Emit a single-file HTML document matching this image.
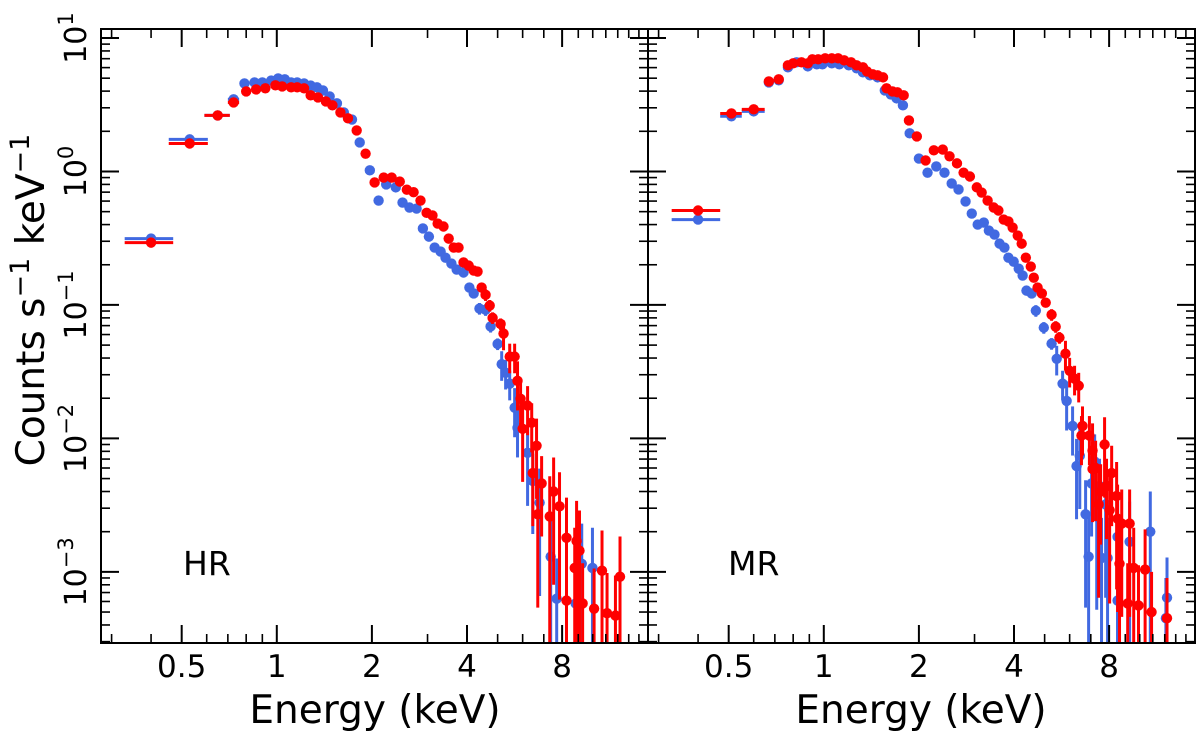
<!DOCTYPE html>
<html><head><meta charset="utf-8"><style>
html,body{margin:0;padding:0;background:#fff}
svg{display:block;font-family:"DejaVu Sans","Liberation Sans",sans-serif}
</style></head><body>
<svg id="chart" width="1200" height="741" viewBox="0 0 1200 741" xmlns="http://www.w3.org/2000/svg">
<defs>
<clipPath id="clipL"><rect x="101" y="29" width="547" height="614"/></clipPath>
<clipPath id="clipR"><rect x="648" y="29" width="547" height="614"/></clipPath>
</defs>
<g id="marksL" clip-path="url(#clipL)"></g>
<g id="marksR" clip-path="url(#clipR)"></g>
<g id="axes"></g>
<text x="183" y="575" font-size="33" fill="#000">HR</text>
<text x="728" y="575" font-size="33" fill="#000">MR</text>
<text x="375" y="723" font-size="39" text-anchor="middle" fill="#000">Energy (keV)</text>
<text x="921" y="723" font-size="39" text-anchor="middle" fill="#000">Energy (keV)</text>
<text transform="translate(44,300) rotate(-90)" font-size="39" text-anchor="middle" fill="#000">Counts s<tspan dy="-15" font-size="27">−1</tspan><tspan dy="15"> keV</tspan><tspan dy="-15" font-size="27">−1</tspan></text>
</svg>
<script>
// ---- data (energy keV, counts/s/keV, relative error) ----
const hrBlueE=[0.40,0.53,0.65,0.73,0.79,0.85,0.90,0.96,1.01,1.06,1.11,1.16,1.22,1.28,1.34,1.40,1.47,1.55,1.63,1.73,1.83,1.97,2.10,2.22,2.38,2.50,2.63,2.77,2.90,3.03,3.16,3.30,3.42,3.57,3.71,3.90,4.07,4.20,4.38,4.58,4.75,5.0,5.15,5.30,5.46,5.66,5.78,6.22,6.46,6.79,7.36,7.69,8.83,9.23,9.98];
const hrBlueF=[0.314,1.74,2.63,3.47,4.57,4.65,4.65,4.8,4.98,4.9,4.65,4.65,4.57,4.4,4.27,4.05,3.65,3.24,2.77,2.45,1.65,1.02,0.605,0.80,0.76,0.585,0.537,0.527,0.374,0.325,0.269,0.251,0.226,0.204,0.184,0.175,0.135,0.122,0.094,0.092,0.069,0.051,0.036,0.031,0.0257,0.017,0.012,0.0078,0.0048,0.0033,0.0013,0.00063,0.00058,0.00115,0.00107];
const hrBlueErr=[0.02,0.02,0.02,0.02,0.02,0.02,0.02,0.02,0.02,0.02,0.02,0.02,0.02,0.02,0.02,0.02,0.02,0.02,0.02,0.02,0.02,0.02,0.02,0.02,0.02,0.02,0.02,0.02,0.02,0.02,0.02,0.02,0.02,0.02,0.02,0.02,0.02,0.02,0.1,0.1,0.1,0.1,0.25,0.25,0.25,0.4,0.4,0.6,0.6,0.8,1,1,1,1,1];
const hrBlueXErr=[0.07,0.075,0.06,0.03];
const hrRedE=[0.40,0.53,0.65,0.73,0.80,0.86,0.92,0.99,1.04,1.11,1.16,1.22,1.28,1.35,1.43,1.50,1.59,1.68,1.79,1.91,2.04,2.18,2.31,2.45,2.58,2.71,2.85,2.98,3.11,3.23,3.37,3.50,3.63,3.76,3.90,4.05,4.20,4.32,4.45,4.58,4.72,4.82,5.11,5.22,5.46,5.66,5.78,5.91,6.22,6.41,6.0,6.64,6.46,6.89,7.52,7.85,6.70,7.31,8.26,8.89,9.08,8.77,10.7,12.2,8.26,9.29,10.1,11.1,11.8];
const hrRedF=[0.293,1.62,2.63,3.29,3.98,4.12,4.2,4.42,4.34,4.27,4.27,4.2,3.72,3.59,3.35,3.13,2.77,2.5,2.03,1.36,0.827,0.90,0.90,0.84,0.73,0.70,0.605,0.49,0.468,0.407,0.387,0.314,0.269,0.269,0.208,0.197,0.181,0.178,0.135,0.119,0.099,0.080,0.072,0.061,0.041,0.041,0.027,0.0198,0.0176,0.0131,0.0118,0.0088,0.0055,0.0046,0.0040,0.0031,0.0027,0.0026,0.0018,0.0017,0.00144,0.00107,0.00102,0.00092,0.00061,0.00058,0.00053,0.00049,0.00047];
const hrRedErr=[0.02,0.02,0.02,0.02,0.02,0.02,0.02,0.02,0.02,0.02,0.02,0.02,0.02,0.02,0.02,0.02,0.02,0.02,0.02,0.02,0.02,0.02,0.02,0.02,0.02,0.02,0.02,0.02,0.02,0.02,0.02,0.02,0.02,0.02,0.02,0.02,0.02,0.02,0.02,0.1,0.1,0.1,0.1,0.25,0.25,0.25,0.4,0.4,0.4,0.4,0.6,0.6,0.6,0.6,0.8,0.8,0.8,1,1,1,1,1,1,1,1,1,1,1,1];
const hrRedXErr=[0.07,0.075,0.06,0.03];
const mrBlueE=[0.40,0.51,0.60,0.67,0.72,0.77,0.82,0.89,0.95,0.99,1.06,1.12,1.20,1.27,1.33,1.40,1.48,1.56,1.63,1.70,1.78,1.87,2.00,2.13,2.27,2.41,2.54,2.67,2.81,2.94,3.07,3.21,3.33,3.47,3.60,3.73,3.84,3.99,4.14,4.26,4.38,4.55,4.69,4.97,5.26,5.46,5.70,5.87,6.13,6.31,6.46,6.74,6.89,7.04,7.20,7.31,7.46,7.57,7.80,7.91,8.51,8.51,9.29,10.8,12.2,12.1];
const mrBlueF=[0.436,2.59,2.82,4.65,4.82,6.03,6.57,6.13,6.35,6.35,6.46,6.35,6.24,5.93,5.53,5.25,5.07,4.05,3.78,3.53,3.13,1.93,1.25,0.98,1.09,0.98,0.813,0.733,0.596,0.484,0.40,0.414,0.361,0.337,0.288,0.269,0.226,0.211,0.187,0.166,0.128,0.122,0.0906,0.0676,0.0513,0.0395,0.0257,0.0191,0.0124,0.0062,0.0074,0.0027,0.0013,0.0046,0.0067,0.0026,0.0044,0.00127,0.0032,0.00127,0.00061,0.00183,0.00168,0.0020,0.00064,0.00045];
const mrBlueErr=[0.02,0.02,0.02,0.02,0.02,0.02,0.02,0.02,0.02,0.02,0.02,0.02,0.02,0.02,0.02,0.02,0.02,0.02,0.02,0.02,0.02,0.02,0.02,0.02,0.02,0.02,0.02,0.02,0.02,0.02,0.02,0.02,0.02,0.02,0.02,0.02,0.02,0.02,0.02,0.02,0.02,0.02,0.1,0.1,0.1,0.25,0.25,0.4,0.4,0.6,0.6,0.8,1,0.6,0.6,0.8,0.6,1,0.8,1,1,1,1,1,1,1];
const mrBlueXErr=[0.07,0.04,0.05];
const mrRedE=[0.40,0.51,0.60,0.67,0.72,0.77,0.80,0.85,0.89,0.92,0.96,1.01,1.06,1.11,1.16,1.22,1.27,1.33,1.37,1.43,1.48,1.54,1.58,1.65,1.71,1.79,1.86,1.97,2.10,2.23,2.38,2.50,2.64,2.77,2.90,3.05,3.16,3.30,3.45,3.57,3.71,3.84,3.96,4.11,4.23,4.36,4.52,4.62,4.75,4.90,5.04,5.26,5.42,5.57,5.82,6.0,6.22,6.41,6.59,6.54,6.93,7.09,7.74,7.09,7.25,7.52,7.85,8.15,7.41,8.03,8.45,8.51,8.77,9.29,8.63,9.57,10.4,9.16,9.91,10.9,12.2];
const mrRedF=[0.51,2.72,2.92,4.73,4.9,6.24,6.46,6.57,6.46,6.92,6.92,7.04,7.04,7.04,6.8,6.57,6.24,6.03,5.62,5.34,5.25,5.07,4.2,3.98,3.92,3.72,2.41,1.83,1.21,1.44,1.46,1.30,1.15,0.98,0.917,0.76,0.695,0.605,0.537,0.51,0.436,0.422,0.38,0.331,0.288,0.226,0.194,0.16,0.135,0.122,0.104,0.0845,0.0687,0.0569,0.0431,0.0321,0.028,0.0248,0.0124,0.0105,0.0105,0.0081,0.0090,0.0059,0.006,0.004,0.0044,0.0055,0.0032,0.0029,0.0037,0.0025,0.0023,0.0023,0.00115,0.00107,0.00104,0.00058,0.00056,0.0005,0.00045];
const mrRedErr=[0.02,0.02,0.02,0.02,0.02,0.02,0.02,0.02,0.02,0.02,0.02,0.02,0.02,0.02,0.02,0.02,0.02,0.02,0.02,0.02,0.02,0.02,0.02,0.02,0.02,0.02,0.02,0.02,0.02,0.02,0.02,0.02,0.02,0.02,0.02,0.02,0.02,0.02,0.02,0.02,0.02,0.02,0.02,0.02,0.02,0.02,0.02,0.02,0.02,0.02,0.02,0.1,0.1,0.1,0.25,0.25,0.25,0.25,0.4,0.4,0.4,0.6,0.6,0.6,0.6,0.6,0.6,0.6,0.8,0.8,0.8,0.8,0.8,0.8,1,1,1,1,1,1,1];
const mrRedXErr=[0.07,0.04,0.05];
const xTickMajor=[0.5,1,2,4,8];
const xTickLabels=["0.5","1","2","4","8"];
const xTickMinor=[0.3,0.4,0.6,0.7,0.8,0.9,3,5,6,7,9,10,11,12,13,14];
const yDecades=[-3,-2,-1,0,1];
const yTickLabels=["−3","−2","−1","0","1"];

// ---- scales ----
const X_MIN=0.2777, X_MAX=14.96, Y_MIN=Math.pow(10,-3.533), Y_MAX=Math.pow(10,1.0675);
const TOP=29, BOT=643, PW=547;
function xScale(e,x0){return x0+PW*(Math.log10(e)-Math.log10(X_MIN))/(Math.log10(X_MAX)-Math.log10(X_MIN));}
function yScale(f){return TOP+(BOT-TOP)*(Math.log10(Y_MAX)-Math.log10(f))/(Math.log10(Y_MAX)-Math.log10(Y_MIN));}
const NS="http://www.w3.org/2000/svg";
function mk(tag,attrs,parent){const el=document.createElementNS(NS,tag);for(const k in attrs)el.setAttribute(k,attrs[k]);parent.appendChild(el);return el;}

function drawSeries(g,x0,E,F,ERR,XERR,color,name){
  const sg=mk('g',{},g);
  
  
  for(let i=0;i<E.length;i++){
    const cx=xScale(E[i],x0), cy=yScale(F[i]);
    const rel=ERR[i]||0;
    if(rel>0.05){
      const yl=rel>=1?BOT+10:yScale(F[i]*(1-rel));
      const yh=yScale(F[i]*(1+rel));
      const eb=mk('line',{x1:cx,x2:cx,y1:yh,y2:yl,stroke:color,'stroke-width':3},sg);
      
      
    }
    if(XERR[i]){
      const xb=mk('line',{x1:xScale(E[i]-XERR[i],x0),x2:xScale(E[i]+XERR[i],x0),y1:cy,y2:cy,stroke:color,'stroke-width':3},sg);
      
      
    }
    const pt=mk('circle',{cx:cx,cy:cy,r:5.2,fill:color},sg);
    
    
  }
}
const gL=document.getElementById('marksL'), gR=document.getElementById('marksR');
drawSeries(gL,101,hrBlueE,hrBlueF,hrBlueErr,hrBlueXErr,'#4169e1','hr-blue');
drawSeries(gL,101,hrRedE,hrRedF,hrRedErr,hrRedXErr,'#ff0000','hr-red');
drawSeries(gR,648,mrBlueE,mrBlueF,mrBlueErr,mrBlueXErr,'#4169e1','mr-blue');
drawSeries(gR,648,mrRedE,mrRedF,mrRedErr,mrRedXErr,'#ff0000','mr-red');

// ---- axes ----
const ax=document.getElementById('axes');
[101,648].forEach(function(x0,pi){
  const pname=pi===0?'hr':'mr';
  const fr=mk('rect',{x:x0,y:TOP,width:PW,height:BOT-TOP,fill:'none',stroke:'#000','stroke-width':2},ax);
  
  
  xTickMajor.forEach(function(v,i){
    const x=xScale(v,x0);
    mk('line',{x1:x,x2:x,y1:BOT,y2:BOT-18,stroke:'#000','stroke-width':2},ax);
    mk('line',{x1:x,x2:x,y1:TOP,y2:TOP+18,stroke:'#000','stroke-width':2},ax);
    const t=mk('text',{x:x,y:677,'font-size':31,'text-anchor':'middle',fill:'#000'},ax);
    t.textContent=xTickLabels[i];
    
    
  });
  xTickMinor.forEach(function(v){
    const x=xScale(v,x0);
    if(x<=x0+1||x>=x0+PW-1)return;
    mk('line',{x1:x,x2:x,y1:BOT,y2:BOT-9,stroke:'#000','stroke-width':1.6},ax);
    mk('line',{x1:x,x2:x,y1:TOP,y2:TOP+9,stroke:'#000','stroke-width':1.6},ax);
  });
  for(let d=-4;d<=1;d++){
    for(let m=1;m<=9;m++){
      const v=m*Math.pow(10,d);
      const y=yScale(v);
      if(y<TOP+1||y>BOT-1)continue;
      const len=m===1?18:9;
      mk('line',{x1:x0,x2:x0+len,y1:y,y2:y,stroke:'#000','stroke-width':m===1?2:1.6},ax);
      mk('line',{x1:x0+PW,x2:x0+PW-len,y1:y,y2:y,stroke:'#000','stroke-width':m===1?2:1.6},ax);
    }
  }
});
yDecades.forEach(function(d,i){
  const y=yScale(Math.pow(10,d));
  const t=mk('text',{transform:'translate(86,'+y+') rotate(-90)','font-size':30,'text-anchor':'middle',fill:'#000'},ax);
  
  
  const a=document.createElementNS(NS,'tspan');a.textContent='10';t.appendChild(a);
  const b=document.createElementNS(NS,'tspan');b.setAttribute('dy','-13');b.setAttribute('font-size','21');b.textContent=yTickLabels[i];t.appendChild(b);
});
</script>
</body></html>
